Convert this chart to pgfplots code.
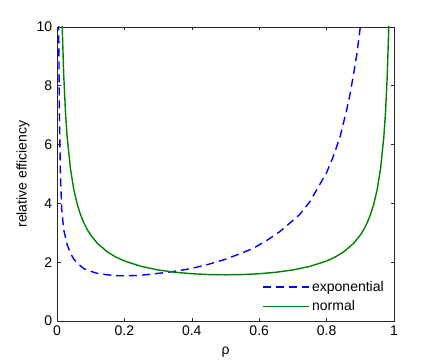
\documentclass[border=0pt]{standalone}
\usepackage{pgfplots}
\pgfplotsset{compat=1.18}
\usepackage{fontspec}
\setmainfont{Liberation Sans}
\definecolor{mblue}{rgb}{0,0,1}
\definecolor{mgreen}{rgb}{0,0.5,0}
\begin{document}
\fontsize{14}{16}\selectfont
\begin{tikzpicture}
\useasboundingbox (0pt,0pt) rectangle (436pt,362pt);
\begin{axis}[
  at={(57pt,41pt)}, anchor=south west,
  scale only axis, width=337pt, height=294pt,
  xmin=0, xmax=1, ymin=0, ymax=10,
  xtick={0,0.2,0.4,0.6,0.8,1},
  ytick={0,2,4,6,8,10},
  xticklabels={0,0.2,0.4,0.6,0.8,1},
  tick align=inside, major tick length=3.5pt,
  tick style={black!85, line width=0.6pt},
  axis line style={black!85, line width=0.8pt},
  /pgf/number format/assume math mode=true,
  tick label style={font=\fontsize{14}{16}\selectfont},
  label style={font=\fontsize{14}{16}\selectfont},
  xlabel={ρ},
  ylabel={relative efficiency},
  xlabel style={at={(axis description cs:0.5,-0.105)}, anchor=center},
  ylabel style={at={(axis description cs:-0.101,0.5)}, anchor=center},
  legend style={draw=none, fill=none, at={(0.985,0.015)}, anchor=south east,
    font=\fontsize{14}{16}\selectfont, row sep=3pt},
  legend cell align=left,
  legend image code/.code={\draw[#1] (0pt,0pt) -- (46pt,0pt);},
]
\addplot[mblue, line width=1.4pt, dash pattern=on 8pt off 5pt] coordinates {
(0.0045,10.6) (0.005,10.0) (0.007,7.2) (0.010,5.0) (0.014,3.8) (0.02,3.1)
(0.03,2.6) (0.04,2.3) (0.05,2.1) (0.065,1.92) (0.08,1.78) (0.10,1.69) (0.12,1.62)
(0.15,1.57) (0.18,1.54) (0.21,1.54) (0.24,1.55) (0.27,1.58) (0.30,1.62)
(0.33,1.66) (0.36,1.71) (0.40,1.79) (0.45,1.93) (0.50,2.10) (0.55,2.32)
(0.58,2.46) (0.62,2.72) (0.66,3.03) (0.70,3.42) (0.72,3.62) (0.75,4.05)
(0.78,4.65) (0.80,5.05) (0.82,5.6) (0.84,6.27) (0.86,7.2) (0.87,7.74)
(0.88,8.4) (0.89,9.1) (0.90,10.0) (0.902,10.3)
};
\addlegendentry{exponential}
\addplot[mgreen, line width=1.4pt] coordinates {
(0.015,10.30) (0.016,9.82) (0.02,8.357) (0.025,7.133) (0.03,6.284) (0.04,5.171)
(0.05,4.465) (0.06,3.975) (0.07,3.611) (0.08,3.330) (0.09,3.106) (0.10,2.922)
(0.12,2.639) (0.15,2.345) (0.175,2.173) (0.20,2.041) (0.25,1.857) (0.30,1.737)
(0.35,1.658) (0.40,1.608) (0.45,1.580) (0.50,1.571) (0.55,1.580) (0.60,1.608)
(0.65,1.658) (0.70,1.737) (0.75,1.857) (0.80,2.041) (0.825,2.173) (0.85,2.345)
(0.88,2.639) (0.90,2.922) (0.91,3.106) (0.92,3.330) (0.93,3.611) (0.94,3.975)
(0.95,4.465) (0.96,5.171) (0.97,6.284) (0.975,7.133) (0.98,8.357) (0.984,9.82)
(0.985,10.30)
};
\addlegendentry{normal}
\end{axis}
\end{tikzpicture}
\end{document}
